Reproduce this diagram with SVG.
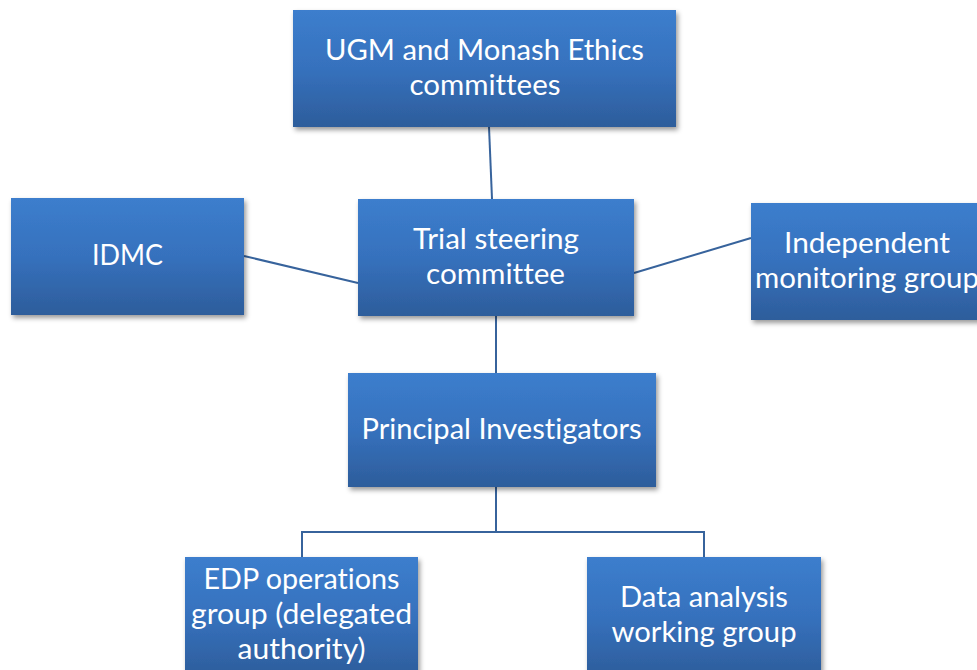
<svg xmlns="http://www.w3.org/2000/svg" width="977" height="670" viewBox="0 0 977 670">
  <defs>
    <linearGradient id="boxGrad" x1="0" y1="0" x2="0" y2="1">
      <stop offset="0" stop-color="#3c7ecd"/>
      <stop offset="0.5" stop-color="#3671bd"/>
      <stop offset="1" stop-color="#2d5d9b"/>
    </linearGradient>
    <filter id="shadow" x="-10%" y="-10%" width="130%" height="140%">
      <feDropShadow dx="2" dy="3" stdDeviation="2.5" flood-color="#000" flood-opacity="0.4"/>
    </filter>
  </defs>
  <style>
    .box { fill: url(#boxGrad); filter: url(#shadow); }
    .lbl { font-family: Lato, "Open Sans", "Liberation Sans", sans-serif; font-size: 28px; fill: #ffffff; text-anchor: middle; font-variant-ligatures: none; }
    .conn { stroke: #37639c; stroke-width: 2; fill: none; }
  </style>
  <rect width="977" height="670" fill="#ffffff"/>

  <g id="connectors">
    <line class="conn" x1="489" y1="127" x2="492" y2="199"/>
    <line class="conn" x1="244" y1="256" x2="358" y2="283"/>
    <line class="conn" x1="634" y1="273" x2="751" y2="238"/>
    <line class="conn" x1="496" y1="316" x2="496" y2="373"/>
    <polyline class="conn" points="496,487 496,532 302,532 302,557"/>
    <polyline class="conn" points="496,532 704,532 704,557"/>
  </g>

  <g id="ugm">
    <rect class="box" x="293" y="10" width="383" height="117"/>
    <text class="lbl" x="484.5" y="60" textLength="319" lengthAdjust="spacingAndGlyphs">UGM and Monash Ethics</text>
    <text class="lbl" x="485" y="95" textLength="151" lengthAdjust="spacingAndGlyphs">committees</text>
  </g>

  <g id="idmc">
    <rect class="box" x="11" y="198" width="233" height="117"/>
    <text class="lbl" x="127.5" y="265" textLength="71" lengthAdjust="spacingAndGlyphs">IDMC</text>
  </g>

  <g id="tsc">
    <rect class="box" x="358" y="199" width="276" height="117"/>
    <text class="lbl" x="496" y="249" textLength="166" lengthAdjust="spacingAndGlyphs">Trial steering</text>
    <text class="lbl" x="495.5" y="283.5" textLength="139" lengthAdjust="spacingAndGlyphs">committee</text>
  </g>

  <g id="img">
    <rect class="box" x="751" y="203" width="240" height="117"/>
    <text class="lbl" x="867" y="253" textLength="166" lengthAdjust="spacingAndGlyphs">Independent</text>
    <text class="lbl" x="867" y="287.5" textLength="224" lengthAdjust="spacingAndGlyphs">monitoring group</text>
  </g>

  <g id="pi">
    <rect class="box" x="348" y="373" width="308" height="114"/>
    <text class="lbl" x="501.5" y="439" textLength="280" lengthAdjust="spacingAndGlyphs">Principal Investigators</text>
  </g>

  <g id="edp">
    <rect class="box" x="185" y="557" width="233" height="120"/>
    <text class="lbl" x="301.5" y="589" textLength="196" lengthAdjust="spacingAndGlyphs">EDP operations</text>
    <text class="lbl" x="301.5" y="624" textLength="221" lengthAdjust="spacingAndGlyphs">group (delegated</text>
    <text class="lbl" x="301.5" y="659" textLength="128" lengthAdjust="spacingAndGlyphs">authority)</text>
  </g>

  <g id="data">
    <rect class="box" x="587" y="557" width="234" height="120"/>
    <text class="lbl" x="704" y="607" textLength="168" lengthAdjust="spacingAndGlyphs">Data analysis</text>
    <text class="lbl" x="704" y="642" textLength="185" lengthAdjust="spacingAndGlyphs">working group</text>
  </g>
</svg>
